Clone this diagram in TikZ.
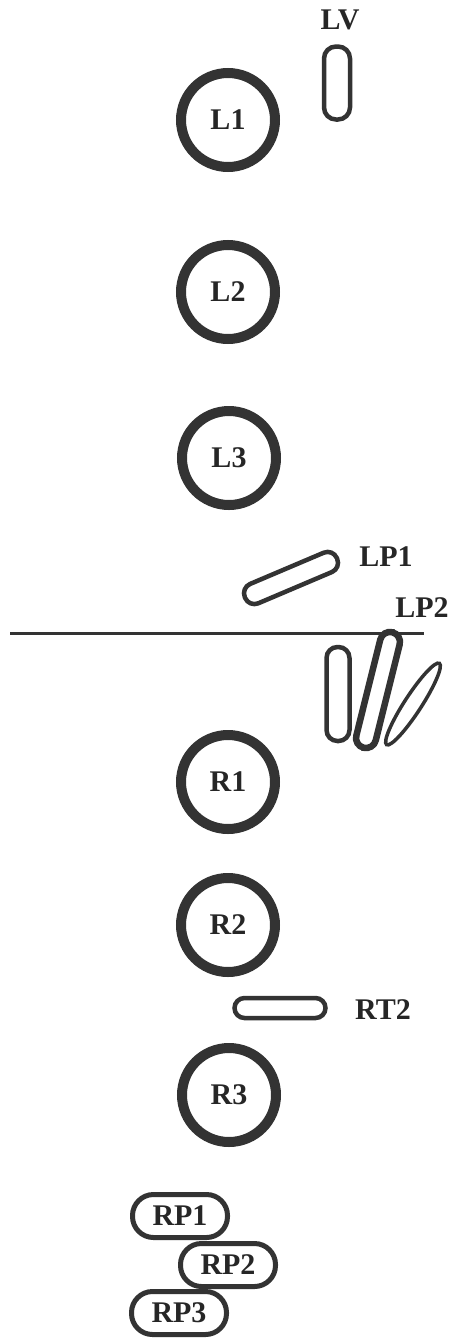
\documentclass[tikz,border=0pt]{standalone}
\usepackage{fontspec}
\setmainfont{Liberation Serif}
\usepackage{tikz}
\usetikzlibrary{shapes.geometric}

\begin{document}
\begin{tikzpicture}[
    x=1pt, y=-1pt,
    ring/.style={circle, draw=black!80, line width=10pt, minimum size=94pt, inner sep=0pt},
    pill/.style={rectangle, draw=black!80, line width=4.5pt, rounded corners=10pt, inner sep=0pt},
    tag/.style={rectangle, draw=black!80, line width=5pt, rounded corners=21pt,
                minimum width=95pt, minimum height=43pt, inner sep=0pt},
    every node/.style={text=black!85, font=\fontsize{30}{30}\selectfont\bfseries},
    ]

    \useasboundingbox (0,0) rectangle (450,1339);
    % ring centres
    \coordinate (c1) at (228,120);
    \coordinate (c2) at (228,292);
    \coordinate (c3) at (229,458);
    \coordinate (c4) at (228,782);
    \coordinate (c5) at (228,925);
    \coordinate (c6) at (229,1095);
    % rings
    \node[ring] (L1) at (c1) {L1};
    \node[ring] (L2) at (c2) {L2};
    \node[ring] (L3) at (c3) {L3};
    \node[ring] (R1) at (c4) {R1};
    \node[ring] (R2) at (c5) {R2};
    \node[ring] (R3) at (c6) {R3};
    % small pills
    \node[pill, minimum width=26pt, minimum height=73pt, rounded corners=12pt] (lv) at (337,83) {};
    \node at (340,20) (lvtext) {LV};
    \node[pill, minimum width=100pt, minimum height=21pt, rotate=23] (lp1) at (291,578) {};
    \node at (386,557) (lp1text) {LP1};
    \node at (422,608) (lp2text) {LP2};
    \node[pill, minimum width=91pt, minimum height=20pt] (rt2) at (280,1008) {};
    \node at (383,1010) (rt2text) {RT2};
    % cut line
    \draw[black!80, line width=3pt] (10,633) -- (424,633);
    % LP2 group
    \node[pill, minimum width=23pt, minimum height=94pt, rounded corners=11pt] (lp2a) at (338,694) {};
    \node[pill, line width=6.5pt, minimum width=119pt, minimum height=20pt, rotate=76] (lp2b) at (378,690) {};
    \node[ellipse, draw=black!80, line width=3.5pt, minimum width=97pt, minimum height=17pt,
          inner sep=0pt, rotate=57] (lp2c) at (413,704) {};
    % tags
    \node[tag] (rp1) at (180,1216) {RP1};
    \node[tag] (rp2) at (228,1265) {RP2};
    \node[tag] (rp3) at (179,1313) {RP3};
\end{tikzpicture}
\end{document}
